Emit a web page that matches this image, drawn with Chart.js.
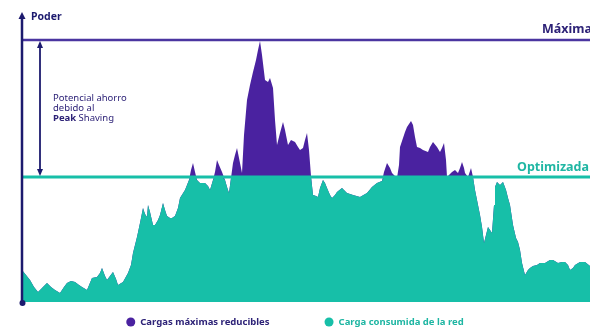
<!DOCTYPE html>
<html>
<head>
<meta charset="utf-8">
<script src="https://cdn.jsdelivr.net/npm/chart.js@4/dist/chart.umd.min.js"></script>
<style>
  html, body { margin: 0; padding: 0; background: #fff; }
  #wrap { width: 590px; height: 330px; position: relative; }
</style>
</head>
<body>
<div id="wrap"><canvas id="peak"></canvas></div>
<script>
// Curva de carga (eje x: tiempo, eje y: potencia)
const tiempo = [
  0, 4, 8, 12, 16, 21, 25, 29, 33, 38, 42, 45, 49, 53, 57, 60, 65, 70, 75, 78,
  80, 83, 85, 88, 91, 94, 96, 101, 106, 109, 111, 115, 118, 120, 121, 123, 125, 126, 128, 131,
  133, 136, 138, 141, 143, 145, 148, 150, 153, 156, 158, 163, 167, 169, 171, 173, 175, 178, 183, 186,
  188, 191, 193, 195, 197, 200, 203, 205, 207, 209, 211, 213, 215, 217, 220, 222, 225, 228, 231, 234,
  236, 238, 240, 243, 246, 248, 251, 253, 255, 258, 261, 263, 266, 269, 273, 276, 278, 281, 283, 285,
  287, 289, 291, 294, 296, 298, 301, 303, 305, 308, 310, 313, 315, 320, 325, 331, 338, 345, 350, 355,
  360, 362, 365, 368, 370, 373, 375, 377, 378, 381, 383, 385, 387, 389, 391, 393, 395, 398, 401, 406,
  408, 411, 415, 418, 420, 422, 424, 425, 428, 430, 433, 436, 438, 440, 442, 443, 446, 449, 451, 453,
  455, 458, 460, 462, 464, 466, 468, 470, 472, 473, 475, 478, 481, 484, 486, 488, 491, 494, 496, 498,
  500, 503, 506, 508, 511, 515, 518, 523, 528, 531, 536, 540, 543, 546, 548, 551, 553, 558, 563, 568
];
const carga = [
  32, 27, 22, 15, 10, 15, 19, 15, 12, 9, 15, 19, 21, 20, 17, 15, 12, 24, 25, 29,
  34, 26, 22, 26, 30, 23, 17, 20, 29, 37, 49, 65, 79, 89, 94, 88, 85, 97, 90, 77,
  77, 82, 87, 99, 92, 86, 84, 84, 86, 94, 104, 112, 122, 132, 139, 130, 122, 119, 119, 116,
  112, 122, 130, 142, 137, 130, 122, 115, 109, 124, 139, 147, 154, 144, 129, 167, 202, 217, 230, 242,
  252, 261, 247, 222, 220, 224, 214, 182, 157, 169, 180, 172, 157, 162, 160, 155, 152, 154, 162, 169,
  152, 126, 107, 106, 105, 114, 122, 119, 114, 107, 104, 107, 110, 114, 109, 107, 105, 109, 115, 119,
  121, 130, 139, 134, 129, 126, 124, 137, 155, 164, 170, 175, 178, 181, 177, 165, 155, 154, 152, 150,
  155, 160, 155, 150, 154, 159, 142, 125, 128, 130, 132, 129, 134, 140, 134, 129, 125, 134, 125, 112,
  102, 87, 75, 59, 67, 75, 72, 69, 97, 115, 120, 117, 120, 112, 104, 97, 77, 64, 60, 52,
  39, 27, 32, 34, 36, 37, 39, 39, 42, 42, 39, 40, 40, 37, 32, 34, 37, 40, 40, 36
];
const MAXIMA = 262;
const OPTIMIZADA = 125;
const X_MAX = 568;
const Y_MAX = 292;

const colors = {
  purple: '#4a22a0',
  teal: '#17bfa8',
  navy: '#1c1a6e',
  maxLine: '#4a35a0',
  textNavy: '#2d2277',
  textTeal: '#1fb6a3',
};
const FONT = '"Noto Sans", "DejaVu Sans", sans-serif';

const seriesNames = ['Cargas máximas reducibles', 'Carga consumida de la red'];

const puntosCarga = tiempo.map((t, i) => ({ x: t, y: carga[i] }));
// la red sólo entrega hasta el nivel optimizado
const puntosRed = tiempo.map((t, i) => ({ x: t, y: Math.min(carga[i], OPTIMIZADA) }));
const level = (v) => [{ x: 0, y: v }, { x: X_MAX, y: v }];

function arrowHead(ctx, x, y, dir, w, h) {
  ctx.beginPath();
  ctx.moveTo(x, y);
  ctx.lineTo(x - w / 2, y + dir * h);
  ctx.lineTo(x + w / 2, y + dir * h);
  ctx.closePath();
  ctx.fill();
}

const decor = {
  id: 'decor',
  afterDatasetsDraw(chart) {
    const { ctx, chartArea: a, scales: { x, y } } = chart;
    ctx.save();
    // eje de potencia con flecha
    ctx.strokeStyle = colors.navy;
    ctx.fillStyle = colors.navy;
    ctx.lineWidth = 2.5;
    ctx.beginPath();
    ctx.moveTo(a.left, a.bottom + 1);
    ctx.lineTo(a.left, a.top + 6);
    ctx.stroke();
    arrowHead(ctx, a.left, a.top + 2, 1, 7, 7);
    ctx.beginPath();
    ctx.arc(a.left + 0.5, a.bottom + 1, 3, 0, Math.PI * 2);
    ctx.fill();

    ctx.font = 'bold 10.5px ' + FONT;
    ctx.textBaseline = 'middle';
    ctx.textAlign = 'left';
    ctx.fillText('Poder', a.left + 9, a.top + 7);

    // flecha doble del potencial de ahorro
    const ax = x.getPixelForValue(18);
    const yTop = y.getPixelForValue(MAXIMA);
    const yBot = y.getPixelForValue(OPTIMIZADA);
    ctx.lineWidth = 1.8;
    ctx.beginPath();
    ctx.moveTo(ax, yTop + 5);
    ctx.lineTo(ax, yBot - 5);
    ctx.stroke();
    arrowHead(ctx, ax, yTop + 1, 1, 6, 7);
    arrowHead(ctx, ax, yBot - 1, -1, 6, 7);

    ctx.fillStyle = colors.textNavy;
    ctx.font = '9.5px ' + FONT;
    const tx = ax + 13;
    ctx.fillText('Potencial ahorro', tx, 98);
    ctx.fillText('debido al', tx, 108);
    ctx.font = 'bold 9.5px ' + FONT;
    ctx.fillText('Peak', tx, 118);
    const pw = ctx.measureText('Peak ').width;
    ctx.font = '9.5px ' + FONT;
    ctx.fillText('Shaving', tx + pw, 118);

    // etiquetas de niveles (cortadas por el borde, como en el original)
    ctx.font = 'bold 12.5px ' + FONT;
    ctx.fillStyle = colors.textNavy;
    ctx.fillText('Máxima', a.right - 48, yTop - 11);
    ctx.fillStyle = colors.textTeal;
    ctx.fillText('Optimizada', a.right - 73, yBot - 10);

    // leyenda
    ctx.font = 'bold 9.5px ' + FONT;
    const items = [
      { text: seriesNames[0], dot: colors.purple, color: colors.textNavy },
      { text: seriesNames[1], dot: colors.teal, color: colors.textTeal },
    ];
    const gap = 55;
    const widths = items.map((it) => 14 + ctx.measureText(it.text).width);
    const total = widths[0] + gap + widths[1];
    let lx = (chart.width - total) / 2;
    const ly = 322;
    items.forEach((it, i) => {
      ctx.fillStyle = it.dot;
      ctx.beginPath();
      ctx.arc(lx + 4.5, ly, 4.5, 0, Math.PI * 2);
      ctx.fill();
      ctx.fillStyle = it.color;
      ctx.fillText(it.text, lx + 14, ly);
      lx += widths[i] + gap;
    });
    ctx.restore();
  },
};

new Chart(document.getElementById('peak'), {
  type: 'line',
  data: {
    datasets: [
      {
        label: 'Máxima',
        data: level(MAXIMA),
        borderColor: colors.maxLine,
        borderWidth: 2.5,
        pointRadius: 0,
        fill: false,
      },
      {
        label: 'Optimizada',
        data: level(OPTIMIZADA),
        borderColor: colors.teal,
        borderWidth: 3,
        pointRadius: 0,
        fill: false,
      },
      {
        label: seriesNames[1],
        data: puntosRed,
        borderWidth: 0,
        pointRadius: 0,
        backgroundColor: colors.teal,
        fill: 'origin',
      },
      {
        label: seriesNames[0],
        data: puntosCarga,
        borderWidth: 0,
        pointRadius: 0,
        backgroundColor: colors.purple,
        fill: 'origin',
      },
    ],
  },
  options: {
    responsive: true,
    maintainAspectRatio: false,
    animation: false,
    layout: { padding: { left: 22, top: 10, right: 0, bottom: 28 } },
    plugins: { legend: { display: false }, tooltip: { enabled: false } },
    scales: {
      x: { type: 'linear', min: 0, max: X_MAX, display: false },
      y: { min: 0, max: Y_MAX, display: false },
    },
  },
  plugins: [decor],
});
</script>
</body>
</html>
